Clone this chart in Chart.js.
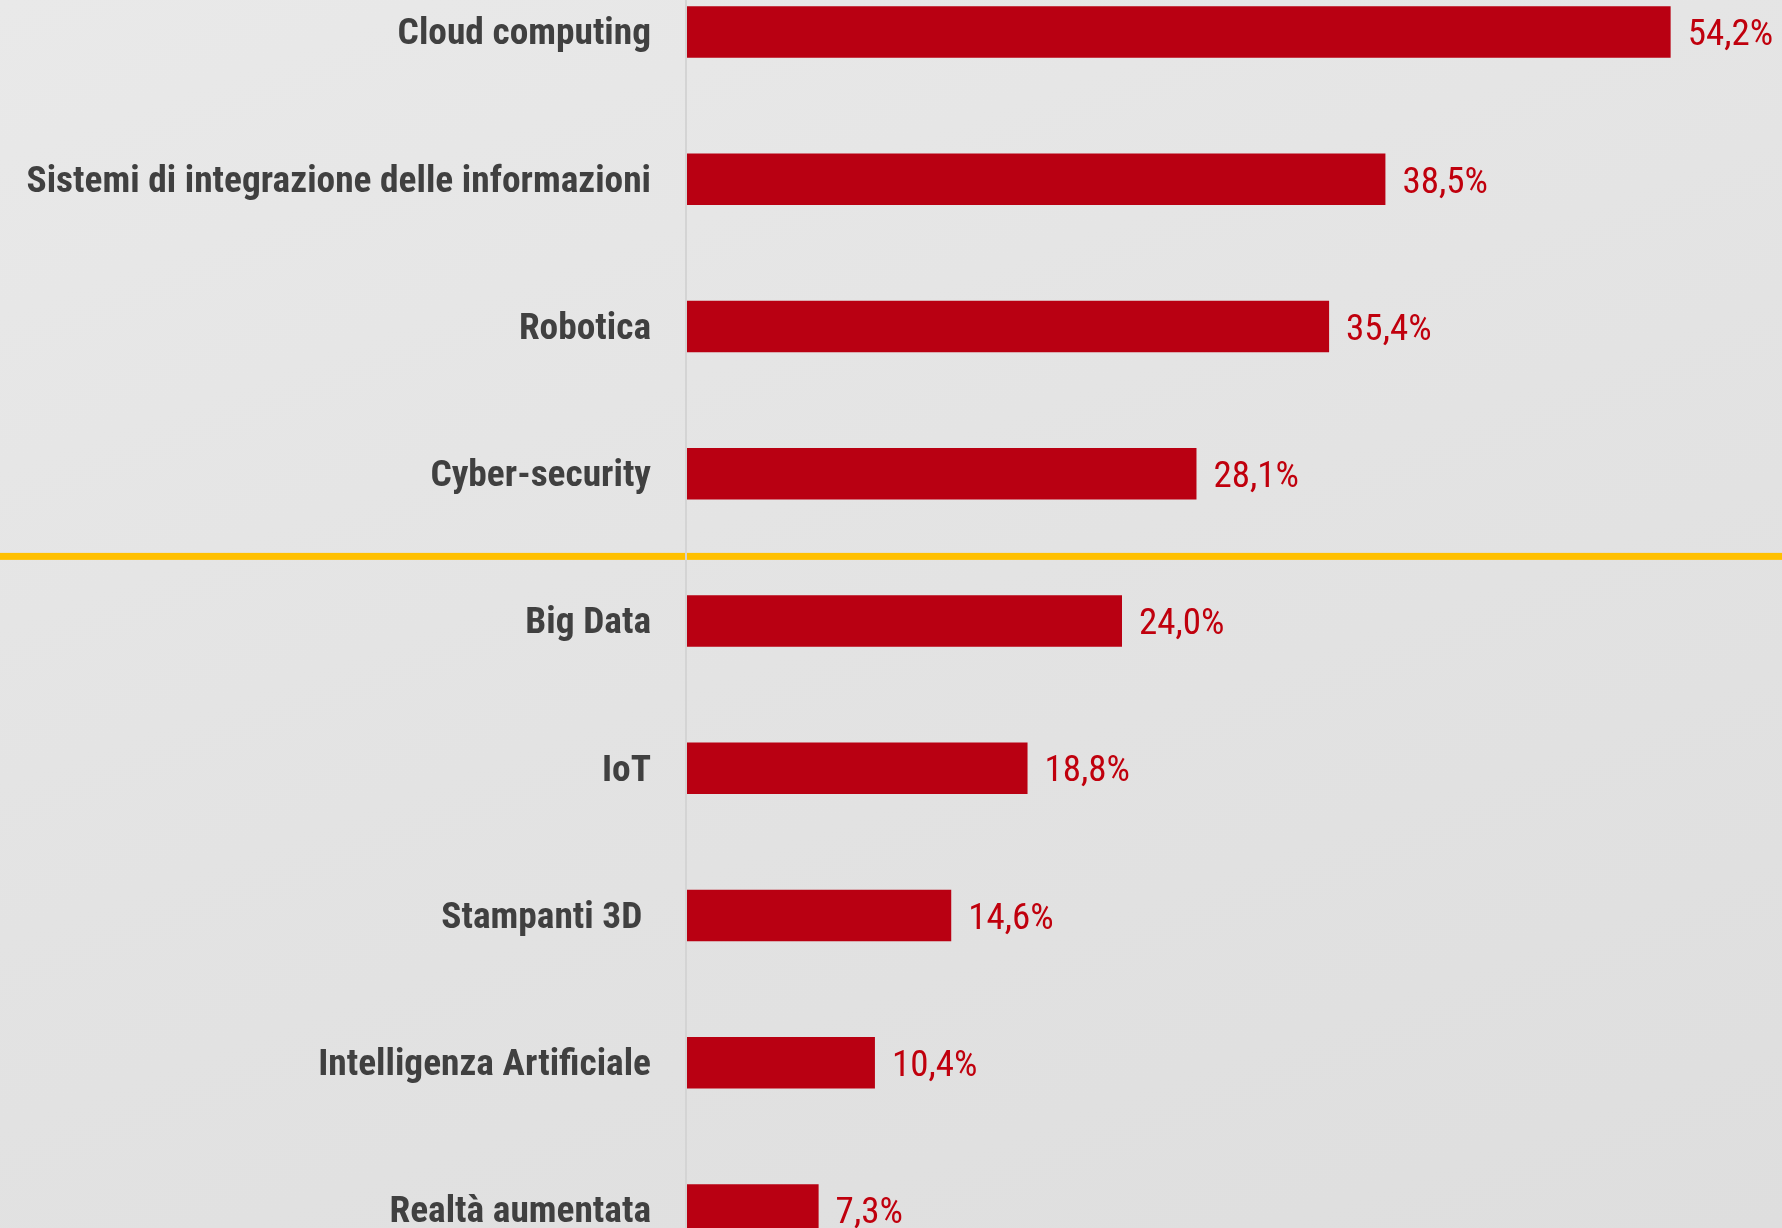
<!DOCTYPE html>
<html>
<head>
<meta charset="utf-8">
<script src="https://cdn.jsdelivr.net/npm/chart.js@4.4.1/dist/chart.umd.min.js"></script>
<style>
  html, body { margin: 0; padding: 0; width: 1782px; height: 1228px; overflow: hidden; }
  body { background: linear-gradient(160deg, #e9e9e9 0%, #e3e3e3 50%, #dedede 100%); }
  #wrap { position: absolute; left: 0; top: -64px; width: 1782px; height: 1370px; }
</style>
</head>
<body>
<div id="wrap"><canvas id="chart"></canvas></div>
<script>
// categorie e valori (%)
const categories = [
  'Cloud computing',
  'Sistemi di integrazione delle informazioni',
  'Robotica',
  'Cyber-security',
  'Big Data',
  'IoT',
  'Stampanti 3D ',
  'Intelligenza Artificiale',
  'Realtà aumentata'
];
const values = [54.2, 38.5, 35.4, 28.1, 24.0, 18.8, 14.6, 10.4, 7.3];
// separatore giallo dopo la quarta voce
const separatorAfter = 3;

const FONT = "'Roboto Condensed', 'Liberation Sans Narrow', 'DejaVu Sans Condensed', sans-serif";
const BAR_RED = '#b90012';
const TEXT_RED = '#c0000d';
const AXIS_X = 686;

function fmt(v) {
  return v.toFixed(1).replace('.', ',') + '%';
}

// etichette dei valori a destra delle barre
const valueLabels = {
  id: 'valueLabels',
  afterDatasetsDraw(chart) {
    const ctx = chart.ctx;
    const meta = chart.getDatasetMeta(0);
    ctx.save();
    ctx.font = '400 37px ' + FONT;
    ctx.fillStyle = TEXT_RED;
    ctx.textAlign = 'left';
    ctx.textBaseline = 'middle';
    meta.data.forEach((bar, i) => {
      ctx.fillText(fmt(values[i]), bar.x + 17, bar.y + 4);
    });
    ctx.restore();
  }
};

// linea gialla di separazione + asse verticale sopra
const separator = {
  id: 'separator',
  afterDraw(chart) {
    const ctx = chart.ctx;
    const y = chart.scales.y;
    const a = y.getPixelForValue(separatorAfter);
    const b = y.getPixelForValue(separatorAfter + 1);
    const py = (a + b) / 2 + 9;
    ctx.save();
    ctx.fillStyle = '#ffc000';
    ctx.fillRect(0, py - 3.5, chart.width, 7);
    ctx.strokeStyle = '#d4d4d4';
    ctx.lineWidth = 2;
    ctx.beginPath();
    ctx.moveTo(chart.chartArea.left, 0);
    ctx.lineTo(chart.chartArea.left, chart.height);
    ctx.stroke();
    ctx.restore();
  }
};

new Chart(document.getElementById('chart'), {
  type: 'bar',
  data: {
    labels: categories,
    datasets: [{
      data: values,
      backgroundColor: BAR_RED,
      borderWidth: 0,
      barPercentage: 0.35,
      categoryPercentage: 1
    }]
  },
  options: {
    indexAxis: 'y',
    responsive: true,
    maintainAspectRatio: false,
    animation: false,
    layout: { padding: { top: 0, bottom: 0, left: 0, right: 6 } },
    plugins: {
      legend: { display: false },
      tooltip: { enabled: false }
    },
    scales: {
      x: {
        display: false,
        min: 0,
        max: 60
      },
      y: {
        afterFit: (scale) => { scale.width = AXIS_X; },
        // distanza etichette-asse tramite tickLength (padding sposta l'area in verticale)
        grid: { display: false, drawTicks: true, tickLength: 35, tickColor: 'rgba(0,0,0,0)' },
        border: { display: false },
        ticks: {
          padding: 0,
          labelOffset: 3,
          color: '#404040',
          font: { family: FONT, size: 37.4, weight: '700' }
        }
      }
    }
  },
  plugins: [valueLabels, separator]
});
</script>
</body>
</html>
